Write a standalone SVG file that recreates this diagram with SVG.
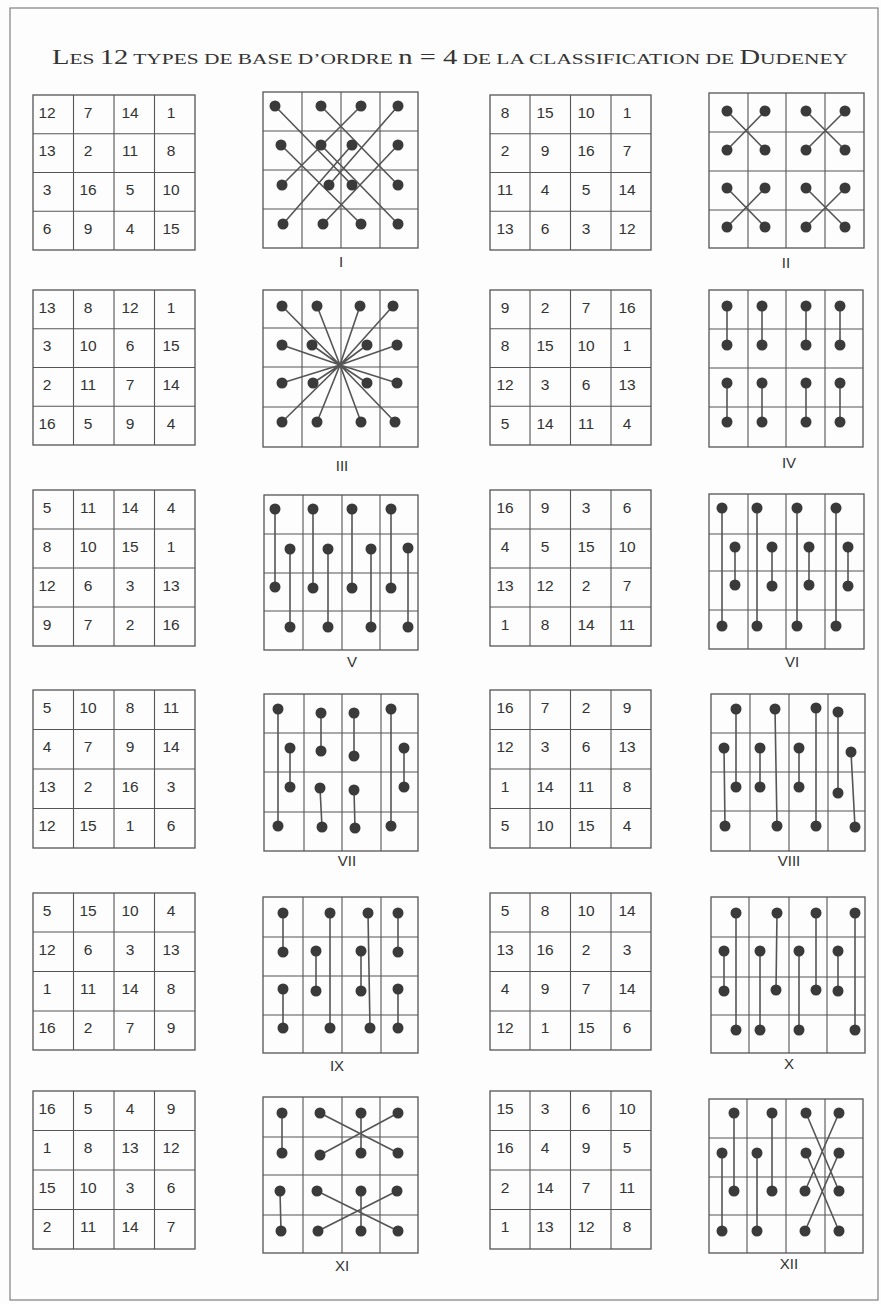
<svg xmlns="http://www.w3.org/2000/svg" width="881" height="1304" viewBox="0 0 881 1304">
<style>
.bg{fill:#fdfdfd}
.frame{fill:none;stroke:#666;stroke-width:1}
.g{fill:none;stroke:#555;stroke-width:1.3}
.gl{stroke:#555;stroke-width:1.1}
.c{stroke:#555;stroke-width:1.6;fill:none}
.d{fill:#3a3a3a}
.n{font-family:"Liberation Sans",Arial,sans-serif;font-size:15.5px;fill:#333;text-anchor:middle}
.lab{font-family:"Liberation Sans",Arial,sans-serif;font-size:15px;fill:#333;text-anchor:middle}
.t{font-family:"Liberation Serif","Times New Roman",serif;fill:#333}
</style>
<rect class="bg" x="0" y="0" width="881" height="1304"/>
<rect class="frame" x="10" y="8" width="868" height="1292"/>
<text class="t" x="450" y="64" text-anchor="middle" textLength="796" lengthAdjust="spacingAndGlyphs"><tspan font-size="20">L</tspan><tspan font-size="15">ES </tspan><tspan font-size="20">12</tspan><tspan font-size="15"> TYPES DE BASE D’ORDRE </tspan><tspan font-size="20">n = 4</tspan><tspan font-size="15"> DE LA CLASSIFICATION DE </tspan><tspan font-size="20">D</tspan><tspan font-size="15">UDENEY</tspan></text>

<!-- number grids -->
<g id="grid1">
<rect class="g" x="33" y="95" width="162" height="155"/>
<path class="gl" d="M73.5 95V250M114 95V250M154.5 95V250M33 133.75H195M33 172.5H195M33 211.25H195"/>
<text class="n" y="118"><tspan x="47">12</tspan><tspan x="88">7</tspan><tspan x="130">14</tspan><tspan x="171">1</tspan></text>
<text class="n" y="156"><tspan x="47">13</tspan><tspan x="88">2</tspan><tspan x="130">11</tspan><tspan x="171">8</tspan></text>
<text class="n" y="195"><tspan x="47">3</tspan><tspan x="88">16</tspan><tspan x="130">5</tspan><tspan x="171">10</tspan></text>
<text class="n" y="234"><tspan x="47">6</tspan><tspan x="88">9</tspan><tspan x="130">4</tspan><tspan x="171">15</tspan></text>
</g>
<g id="grid2">
<rect class="g" x="490" y="95" width="161" height="155"/>
<path class="gl" d="M530 95V250M570.5 95V250M611 95V250M490 133.75H651M490 172.5H651M490 211.25H651"/>
<text class="n" y="118"><tspan x="505">8</tspan><tspan x="545">15</tspan><tspan x="586">10</tspan><tspan x="627">1</tspan></text>
<text class="n" y="156"><tspan x="505">2</tspan><tspan x="545">9</tspan><tspan x="586">16</tspan><tspan x="627">7</tspan></text>
<text class="n" y="195"><tspan x="505">11</tspan><tspan x="545">4</tspan><tspan x="586">5</tspan><tspan x="627">14</tspan></text>
<text class="n" y="234"><tspan x="505">13</tspan><tspan x="545">6</tspan><tspan x="586">3</tspan><tspan x="627">12</tspan></text>
</g>
<g id="grid3">
<rect class="g" x="33" y="290" width="162" height="155"/>
<path class="gl" d="M73.5 290V445M114 290V445M154.5 290V445M33 328.75H195M33 367.5H195M33 406.25H195"/>
<text class="n" y="313"><tspan x="47">13</tspan><tspan x="88">8</tspan><tspan x="130">12</tspan><tspan x="171">1</tspan></text>
<text class="n" y="351"><tspan x="47">3</tspan><tspan x="88">10</tspan><tspan x="130">6</tspan><tspan x="171">15</tspan></text>
<text class="n" y="390"><tspan x="47">2</tspan><tspan x="88">11</tspan><tspan x="130">7</tspan><tspan x="171">14</tspan></text>
<text class="n" y="429"><tspan x="47">16</tspan><tspan x="88">5</tspan><tspan x="130">9</tspan><tspan x="171">4</tspan></text>
</g>
<g id="grid4">
<rect class="g" x="490" y="290" width="161" height="155"/>
<path class="gl" d="M530 290V445M570.5 290V445M611 290V445M490 328.75H651M490 367.5H651M490 406.25H651"/>
<text class="n" y="313"><tspan x="505">9</tspan><tspan x="545">2</tspan><tspan x="586">7</tspan><tspan x="627">16</tspan></text>
<text class="n" y="351"><tspan x="505">8</tspan><tspan x="545">15</tspan><tspan x="586">10</tspan><tspan x="627">1</tspan></text>
<text class="n" y="390"><tspan x="505">12</tspan><tspan x="545">3</tspan><tspan x="586">6</tspan><tspan x="627">13</tspan></text>
<text class="n" y="429"><tspan x="505">5</tspan><tspan x="545">14</tspan><tspan x="586">11</tspan><tspan x="627">4</tspan></text>
</g>
<g id="grid5">
<rect class="g" x="33" y="490" width="162" height="156"/>
<path class="gl" d="M73.5 490V646M114 490V646M154.5 490V646M33 529H195M33 568H195M33 607H195"/>
<text class="n" y="513"><tspan x="47">5</tspan><tspan x="88">11</tspan><tspan x="130">14</tspan><tspan x="171">4</tspan></text>
<text class="n" y="552"><tspan x="47">8</tspan><tspan x="88">10</tspan><tspan x="130">15</tspan><tspan x="171">1</tspan></text>
<text class="n" y="591"><tspan x="47">12</tspan><tspan x="88">6</tspan><tspan x="130">3</tspan><tspan x="171">13</tspan></text>
<text class="n" y="630"><tspan x="47">9</tspan><tspan x="88">7</tspan><tspan x="130">2</tspan><tspan x="171">16</tspan></text>
</g>
<g id="grid6">
<rect class="g" x="490" y="490" width="161" height="156"/>
<path class="gl" d="M530 490V646M570.5 490V646M611 490V646M490 529H651M490 568H651M490 607H651"/>
<text class="n" y="513"><tspan x="505">16</tspan><tspan x="545">9</tspan><tspan x="586">3</tspan><tspan x="627">6</tspan></text>
<text class="n" y="552"><tspan x="505">4</tspan><tspan x="545">5</tspan><tspan x="586">15</tspan><tspan x="627">10</tspan></text>
<text class="n" y="591"><tspan x="505">13</tspan><tspan x="545">12</tspan><tspan x="586">2</tspan><tspan x="627">7</tspan></text>
<text class="n" y="630"><tspan x="505">1</tspan><tspan x="545">8</tspan><tspan x="586">14</tspan><tspan x="627">11</tspan></text>
</g>
<g id="grid7">
<rect class="g" x="33" y="690" width="162" height="158"/>
<path class="gl" d="M73.5 690V848M114 690V848M154.5 690V848M33 729.5H195M33 769H195M33 808.5H195"/>
<text class="n" y="713"><tspan x="47">5</tspan><tspan x="88">10</tspan><tspan x="130">8</tspan><tspan x="171">11</tspan></text>
<text class="n" y="752"><tspan x="47">4</tspan><tspan x="88">7</tspan><tspan x="130">9</tspan><tspan x="171">14</tspan></text>
<text class="n" y="792"><tspan x="47">13</tspan><tspan x="88">2</tspan><tspan x="130">16</tspan><tspan x="171">3</tspan></text>
<text class="n" y="831"><tspan x="47">12</tspan><tspan x="88">15</tspan><tspan x="130">1</tspan><tspan x="171">6</tspan></text>
</g>
<g id="grid8">
<rect class="g" x="490" y="690" width="161" height="158"/>
<path class="gl" d="M530 690V848M570.5 690V848M611 690V848M490 729.5H651M490 769H651M490 808.5H651"/>
<text class="n" y="713"><tspan x="505">16</tspan><tspan x="545">7</tspan><tspan x="586">2</tspan><tspan x="627">9</tspan></text>
<text class="n" y="752"><tspan x="505">12</tspan><tspan x="545">3</tspan><tspan x="586">6</tspan><tspan x="627">13</tspan></text>
<text class="n" y="792"><tspan x="505">1</tspan><tspan x="545">14</tspan><tspan x="586">11</tspan><tspan x="627">8</tspan></text>
<text class="n" y="831"><tspan x="505">5</tspan><tspan x="545">10</tspan><tspan x="586">15</tspan><tspan x="627">4</tspan></text>
</g>
<g id="grid9">
<rect class="g" x="33" y="893" width="162" height="157"/>
<path class="gl" d="M73.5 893V1050M114 893V1050M154.5 893V1050M33 932H195M33 971.5H195M33 1011H195"/>
<text class="n" y="916"><tspan x="47">5</tspan><tspan x="88">15</tspan><tspan x="130">10</tspan><tspan x="171">4</tspan></text>
<text class="n" y="955"><tspan x="47">12</tspan><tspan x="88">6</tspan><tspan x="130">3</tspan><tspan x="171">13</tspan></text>
<text class="n" y="994"><tspan x="47">1</tspan><tspan x="88">11</tspan><tspan x="130">14</tspan><tspan x="171">8</tspan></text>
<text class="n" y="1033"><tspan x="47">16</tspan><tspan x="88">2</tspan><tspan x="130">7</tspan><tspan x="171">9</tspan></text>
</g>
<g id="grid10">
<rect class="g" x="490" y="893" width="161" height="157"/>
<path class="gl" d="M530 893V1050M570.5 893V1050M611 893V1050M490 932H651M490 971.5H651M490 1011H651"/>
<text class="n" y="916"><tspan x="505">5</tspan><tspan x="545">8</tspan><tspan x="586">10</tspan><tspan x="627">14</tspan></text>
<text class="n" y="955"><tspan x="505">13</tspan><tspan x="545">16</tspan><tspan x="586">2</tspan><tspan x="627">3</tspan></text>
<text class="n" y="994"><tspan x="505">4</tspan><tspan x="545">9</tspan><tspan x="586">7</tspan><tspan x="627">14</tspan></text>
<text class="n" y="1033"><tspan x="505">12</tspan><tspan x="545">1</tspan><tspan x="586">15</tspan><tspan x="627">6</tspan></text>
</g>
<g id="grid11">
<rect class="g" x="33" y="1091" width="162" height="158"/>
<path class="gl" d="M73.5 1091V1249M114 1091V1249M154.5 1091V1249M33 1130.5H195M33 1170H195M33 1209.5H195"/>
<text class="n" y="1114"><tspan x="47">16</tspan><tspan x="88">5</tspan><tspan x="130">4</tspan><tspan x="171">9</tspan></text>
<text class="n" y="1153"><tspan x="47">1</tspan><tspan x="88">8</tspan><tspan x="130">13</tspan><tspan x="171">12</tspan></text>
<text class="n" y="1193"><tspan x="47">15</tspan><tspan x="88">10</tspan><tspan x="130">3</tspan><tspan x="171">6</tspan></text>
<text class="n" y="1232"><tspan x="47">2</tspan><tspan x="88">11</tspan><tspan x="130">14</tspan><tspan x="171">7</tspan></text>
</g>
<g id="grid12">
<rect class="g" x="490" y="1091" width="161" height="158"/>
<path class="gl" d="M530 1091V1249M570.5 1091V1249M611 1091V1249M490 1130.5H651M490 1170H651M490 1209.5H651"/>
<text class="n" y="1114"><tspan x="505">15</tspan><tspan x="545">3</tspan><tspan x="586">6</tspan><tspan x="627">10</tspan></text>
<text class="n" y="1153"><tspan x="505">16</tspan><tspan x="545">4</tspan><tspan x="586">9</tspan><tspan x="627">5</tspan></text>
<text class="n" y="1193"><tspan x="505">2</tspan><tspan x="545">14</tspan><tspan x="586">7</tspan><tspan x="627">11</tspan></text>
<text class="n" y="1232"><tspan x="505">1</tspan><tspan x="545">13</tspan><tspan x="586">12</tspan><tspan x="627">8</tspan></text>
</g>

<!-- pattern grids -->
<g id="typeI">
<rect class="g" x="263" y="92" width="155" height="156"/>
<path class="gl" d="M302 92V248M341 92V248M380 92V248M263 131H418M263 170H418M263 209H418"/>
<text class="lab" x="341" y="267">I</text>
</g>
<g id="typeII">
<rect class="g" x="709" y="93" width="155" height="155"/>
<path class="gl" d="M748 93V248M786 93V248M825 93V248M709 132H864M709 171H864M709 210H864"/>
<text class="lab" x="786" y="268">II</text>
</g>
<g id="typeIII">
<rect class="g" x="263" y="290" width="155" height="157"/>
<path class="gl" d="M302 290V447M341 290V447M380 290V447M263 328H418M263 367H418M263 407H418"/>
<text class="lab" x="342" y="471">III</text>
</g>
<g id="typeIV">
<rect class="g" x="709" y="290" width="154" height="157"/>
<path class="gl" d="M748 290V447M786 290V447M825 290V447M709 329H863M709 368H863M709 407H863"/>
<text class="lab" x="789" y="468">IV</text>
</g>
<g id="typeV">
<rect class="g" x="264" y="495" width="154" height="155"/>
<path class="gl" d="M303 495V650M342 495V650M380 495V650M264 534H418M264 573H418M264 611H418"/>
<text class="lab" x="352" y="667">V</text>
</g>
<g id="typeVI">
<rect class="g" x="709" y="494" width="155" height="155"/>
<path class="gl" d="M748 494V649M786 494V649M825 494V649M709 534H864M709 571H864M709 610H864"/>
<text class="lab" x="792" y="667">VI</text>
</g>
<g id="typeVII">
<rect class="g" x="264" y="694" width="154" height="157"/>
<path class="gl" d="M304 694V851M342 694V851M381 694V851M264 733H418M264 772H418M264 812H418"/>
<text class="lab" x="347" y="866">VII</text>
</g>
<g id="typeVIII">
<rect class="g" x="711" y="694" width="154" height="157"/>
<path class="gl" d="M750 694V851M789 694V851M828 694V851M711 733H865M711 772H865M711 811H865"/>
<text class="lab" x="789" y="866">VIII</text>
</g>
<g id="typeIX">
<rect class="g" x="263" y="897" width="155" height="156"/>
<path class="gl" d="M303 897V1053M342 897V1053M381 897V1053M263 937H418M263 976H418M263 1015H418"/>
<text class="lab" x="337" y="1071">IX</text>
</g>
<g id="typeX">
<rect class="g" x="711" y="897" width="154" height="156"/>
<path class="gl" d="M749 897V1053M789 897V1053M827 897V1053M711 937H865M711 977H865M711 1015H865"/>
<text class="lab" x="789" y="1069">X</text>
</g>
<g id="typeXI">
<rect class="g" x="263" y="1097" width="155" height="156"/>
<path class="gl" d="M303 1097V1253M342 1097V1253M380 1097V1253M263 1137H418M263 1175H418M263 1215H418"/>
<text class="lab" x="342" y="1271">XI</text>
</g>
<g id="typeXII">
<rect class="g" x="709" y="1099" width="154" height="154"/>
<path class="gl" d="M747 1099V1253M786 1099V1253M825 1099V1253M709 1138H863M709 1177H863M709 1215H863"/>
<text class="lab" x="789" y="1269">XII</text>
</g>

<g id="connectors">
<!-- I -->
<path class="c" d="M275 106L352 185M321 106L398 185M361 106L282 185M398 106L329 185M281 145L361 224M321 145L398 224M352 145L283 224M398 145L323 224"/>
<!-- II -->
<path class="c" d="M727 111L765 150M765 111L727 150M806 111L845 150M845 111L806 150M727 188L765 227M765 188L727 227M806 188L845 227M845 188L806 227"/>
<!-- III -->
<path class="c" stroke-width="1.2" d="M282 306L340 365M317 306L340 365M360 306L340 365M393 306L340 365M282 345L340 365M312 345L340 365M367 345L340 365M397 345L340 365M282 383L340 365M313 383L340 365M367 383L340 365M397 383L340 365M282 422L340 365M317 422L340 365M361 422L340 365M395 422L340 365"/>
<!-- IV -->
<path class="c" d="M727 306V345M762 306V345M806 306V345M840 306V345M727 383V422M762 383V422M806 383V422M840 383V422"/>
<!-- V -->
<path class="c" d="M275 509V587M290 549V627M313 509V588M328 549V627M352 509V588M371 549V627M391 509V588M408 548V627"/>
<!-- VI -->
<path class="c" d="M722 508V626M735 547V585M757 508V626M772 547V586M797 508V626M809 547V585M836 508V626M848 547V586"/>
<!-- VII -->
<path class="c" d="M278 709V826M290 748V787M321 713V751M354 713V756M391 709V826M404 748V787M320 788L322 827M354 790L355 828"/>
<!-- VIII -->
<path class="c" d="M736 709V787M724 748L725 826M760 748V787M775 709L777 826M799 748V787M816 708V826M838 712V793M851 752L855 827"/>
<!-- IX -->
<path class="c" d="M283 913V952M330 913V1028M368 913L370 1028M398 913V952M316 951V991M361 951V991M283 989V1028M398 989V1028"/>
<!-- X -->
<path class="c" d="M736 913V1030M777 913L776 990M816 913V990M855 913V1030M724 951V991M760 951V1030M799 951V1030M838 951V991"/>
<!-- XI -->
<path class="c" d="M282 1113V1153M320 1113L398 1153M361 1113V1153M398 1113L320 1155M280 1191L281 1231M317 1191L398 1231M361 1191V1231M397 1191L318 1231"/>
<!-- XII -->
<path class="c" d="M734 1113V1191M772 1113V1191M722 1153V1231M757 1153V1231M806 1113L839 1191M839 1113L805 1191M806 1153L839 1231M839 1153L805 1231"/>
</g>

<g id="dots" class="d">
<!-- I -->
<circle cx="275" cy="106" r="5.5"/><circle cx="321" cy="106" r="5.5"/><circle cx="361" cy="106" r="5.5"/><circle cx="398" cy="106" r="5.5"/>
<circle cx="281" cy="145" r="5.5"/><circle cx="321" cy="145" r="5.5"/><circle cx="352" cy="145" r="5.5"/><circle cx="398" cy="145" r="5.5"/>
<circle cx="282" cy="185" r="5.5"/><circle cx="329" cy="185" r="5.5"/><circle cx="352" cy="185" r="5.5"/><circle cx="398" cy="185" r="5.5"/>
<circle cx="283" cy="224" r="5.5"/><circle cx="323" cy="224" r="5.5"/><circle cx="361" cy="224" r="5.5"/><circle cx="398" cy="224" r="5.5"/>
<!-- II -->
<circle cx="727" cy="111" r="5.5"/><circle cx="765" cy="111" r="5.5"/><circle cx="806" cy="111" r="5.5"/><circle cx="845" cy="111" r="5.5"/>
<circle cx="727" cy="150" r="5.5"/><circle cx="765" cy="150" r="5.5"/><circle cx="806" cy="150" r="5.5"/><circle cx="845" cy="150" r="5.5"/>
<circle cx="727" cy="188" r="5.5"/><circle cx="765" cy="188" r="5.5"/><circle cx="806" cy="188" r="5.5"/><circle cx="845" cy="188" r="5.5"/>
<circle cx="727" cy="227" r="5.5"/><circle cx="765" cy="227" r="5.5"/><circle cx="806" cy="227" r="5.5"/><circle cx="845" cy="227" r="5.5"/>
<!-- III -->
<circle cx="282" cy="306" r="5.5"/><circle cx="317" cy="306" r="5.5"/><circle cx="360" cy="306" r="5.5"/><circle cx="393" cy="306" r="5.5"/>
<circle cx="282" cy="345" r="5.5"/><circle cx="312" cy="345" r="5.5"/><circle cx="367" cy="345" r="5.5"/><circle cx="397" cy="345" r="5.5"/>
<circle cx="282" cy="383" r="5.5"/><circle cx="313" cy="383" r="5.5"/><circle cx="367" cy="383" r="5.5"/><circle cx="397" cy="383" r="5.5"/>
<circle cx="282" cy="422" r="5.5"/><circle cx="317" cy="422" r="5.5"/><circle cx="361" cy="422" r="5.5"/><circle cx="395" cy="422" r="5.5"/>
<!-- IV -->
<circle cx="727" cy="306" r="5.5"/><circle cx="762" cy="306" r="5.5"/><circle cx="806" cy="306" r="5.5"/><circle cx="840" cy="306" r="5.5"/>
<circle cx="727" cy="345" r="5.5"/><circle cx="762" cy="345" r="5.5"/><circle cx="806" cy="345" r="5.5"/><circle cx="840" cy="345" r="5.5"/>
<circle cx="727" cy="383" r="5.5"/><circle cx="762" cy="383" r="5.5"/><circle cx="806" cy="383" r="5.5"/><circle cx="840" cy="383" r="5.5"/>
<circle cx="727" cy="422" r="5.5"/><circle cx="762" cy="422" r="5.5"/><circle cx="806" cy="422" r="5.5"/><circle cx="840" cy="422" r="5.5"/>
<!-- V -->
<circle cx="275" cy="509" r="5.5"/><circle cx="275" cy="587" r="5.5"/><circle cx="290" cy="549" r="5.5"/><circle cx="290" cy="627" r="5.5"/>
<circle cx="313" cy="509" r="5.5"/><circle cx="313" cy="588" r="5.5"/><circle cx="328" cy="549" r="5.5"/><circle cx="328" cy="627" r="5.5"/>
<circle cx="352" cy="509" r="5.5"/><circle cx="352" cy="588" r="5.5"/><circle cx="371" cy="549" r="5.5"/><circle cx="371" cy="627" r="5.5"/>
<circle cx="391" cy="509" r="5.5"/><circle cx="391" cy="588" r="5.5"/><circle cx="408" cy="548" r="5.5"/><circle cx="408" cy="627" r="5.5"/>
<!-- VI -->
<circle cx="722" cy="508" r="5.5"/><circle cx="722" cy="626" r="5.5"/><circle cx="735" cy="547" r="5.5"/><circle cx="735" cy="585" r="5.5"/>
<circle cx="757" cy="508" r="5.5"/><circle cx="757" cy="626" r="5.5"/><circle cx="772" cy="547" r="5.5"/><circle cx="772" cy="586" r="5.5"/>
<circle cx="797" cy="508" r="5.5"/><circle cx="797" cy="626" r="5.5"/><circle cx="809" cy="547" r="5.5"/><circle cx="809" cy="585" r="5.5"/>
<circle cx="836" cy="508" r="5.5"/><circle cx="836" cy="626" r="5.5"/><circle cx="848" cy="547" r="5.5"/><circle cx="848" cy="586" r="5.5"/>
<!-- VII -->
<circle cx="278" cy="709" r="5.5"/><circle cx="278" cy="826" r="5.5"/><circle cx="290" cy="748" r="5.5"/><circle cx="290" cy="787" r="5.5"/>
<circle cx="321" cy="713" r="5.5"/><circle cx="321" cy="751" r="5.5"/><circle cx="354" cy="713" r="5.5"/><circle cx="354" cy="756" r="5.5"/>
<circle cx="391" cy="709" r="5.5"/><circle cx="391" cy="826" r="5.5"/><circle cx="404" cy="748" r="5.5"/><circle cx="404" cy="787" r="5.5"/>
<circle cx="320" cy="788" r="5.5"/><circle cx="322" cy="827" r="5.5"/><circle cx="354" cy="790" r="5.5"/><circle cx="355" cy="828" r="5.5"/>
<!-- VIII -->
<circle cx="736" cy="709" r="5.5"/><circle cx="736" cy="787" r="5.5"/><circle cx="724" cy="748" r="5.5"/><circle cx="725" cy="826" r="5.5"/>
<circle cx="760" cy="748" r="5.5"/><circle cx="760" cy="787" r="5.5"/><circle cx="775" cy="709" r="5.5"/><circle cx="777" cy="826" r="5.5"/>
<circle cx="799" cy="748" r="5.5"/><circle cx="799" cy="787" r="5.5"/><circle cx="816" cy="708" r="5.5"/><circle cx="816" cy="826" r="5.5"/>
<circle cx="838" cy="712" r="5.5"/><circle cx="838" cy="793" r="5.5"/><circle cx="851" cy="752" r="5.5"/><circle cx="855" cy="827" r="5.5"/>
<!-- IX -->
<circle cx="283" cy="913" r="5.5"/><circle cx="283" cy="952" r="5.5"/><circle cx="330" cy="913" r="5.5"/><circle cx="330" cy="1028" r="5.5"/>
<circle cx="368" cy="913" r="5.5"/><circle cx="370" cy="1028" r="5.5"/><circle cx="398" cy="913" r="5.5"/><circle cx="398" cy="952" r="5.5"/>
<circle cx="316" cy="951" r="5.5"/><circle cx="316" cy="991" r="5.5"/><circle cx="361" cy="951" r="5.5"/><circle cx="361" cy="991" r="5.5"/>
<circle cx="283" cy="989" r="5.5"/><circle cx="283" cy="1028" r="5.5"/><circle cx="398" cy="989" r="5.5"/><circle cx="398" cy="1028" r="5.5"/>
<!-- X -->
<circle cx="736" cy="913" r="5.5"/><circle cx="736" cy="1030" r="5.5"/><circle cx="777" cy="913" r="5.5"/><circle cx="776" cy="990" r="5.5"/>
<circle cx="816" cy="913" r="5.5"/><circle cx="816" cy="990" r="5.5"/><circle cx="855" cy="913" r="5.5"/><circle cx="855" cy="1030" r="5.5"/>
<circle cx="724" cy="951" r="5.5"/><circle cx="724" cy="991" r="5.5"/><circle cx="760" cy="951" r="5.5"/><circle cx="760" cy="1030" r="5.5"/>
<circle cx="799" cy="951" r="5.5"/><circle cx="799" cy="1030" r="5.5"/><circle cx="838" cy="951" r="5.5"/><circle cx="838" cy="991" r="5.5"/>
<!-- XI -->
<circle cx="282" cy="1113" r="5.5"/><circle cx="282" cy="1153" r="5.5"/><circle cx="320" cy="1113" r="5.5"/><circle cx="398" cy="1153" r="5.5"/>
<circle cx="361" cy="1113" r="5.5"/><circle cx="361" cy="1153" r="5.5"/><circle cx="398" cy="1113" r="5.5"/><circle cx="320" cy="1155" r="5.5"/>
<circle cx="280" cy="1191" r="5.5"/><circle cx="281" cy="1231" r="5.5"/><circle cx="317" cy="1191" r="5.5"/><circle cx="398" cy="1231" r="5.5"/>
<circle cx="361" cy="1191" r="5.5"/><circle cx="361" cy="1231" r="5.5"/><circle cx="397" cy="1191" r="5.5"/><circle cx="318" cy="1231" r="5.5"/>
<!-- XII -->
<circle cx="734" cy="1113" r="5.5"/><circle cx="734" cy="1191" r="5.5"/><circle cx="772" cy="1113" r="5.5"/><circle cx="772" cy="1191" r="5.5"/>
<circle cx="722" cy="1153" r="5.5"/><circle cx="722" cy="1231" r="5.5"/><circle cx="757" cy="1153" r="5.5"/><circle cx="757" cy="1231" r="5.5"/>
<circle cx="806" cy="1113" r="5.5"/><circle cx="839" cy="1231" r="5.5"/><circle cx="839" cy="1113" r="5.5"/><circle cx="805" cy="1231" r="5.5"/>
<circle cx="806" cy="1153" r="5.5"/><circle cx="839" cy="1191" r="5.5"/><circle cx="839" cy="1153" r="5.5"/><circle cx="805" cy="1191" r="5.5"/>
</g>
</svg>
